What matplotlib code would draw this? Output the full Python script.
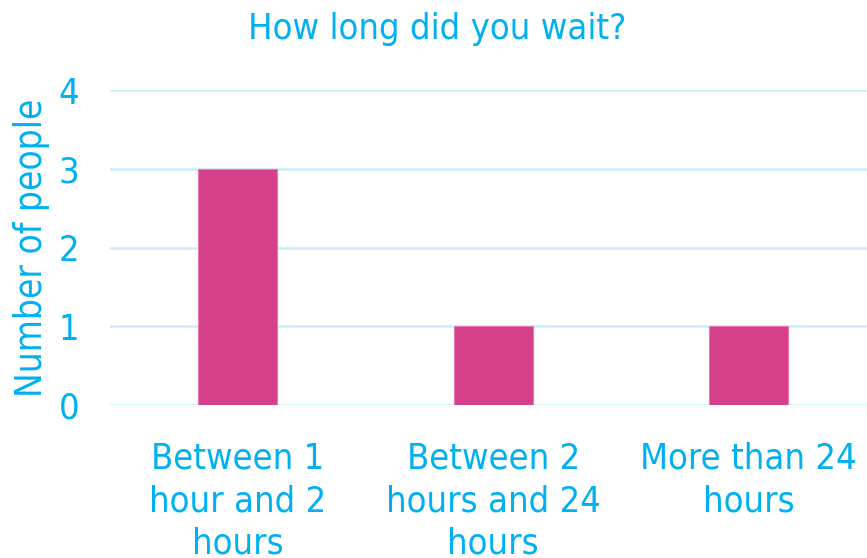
import matplotlib.pyplot as plt

# data
categories = ['Between 1\nhour and 2\nhours', 'Between 2\nhours and 24\nhours', 'More than 24\nhours']
counts = [3, 1, 1]
y_ticks = [0, 1, 2, 3, 4]

text_col = '#00B0F0'
bar_col = '#D63F8A'
grid_col = '#C5EEFB'

plt.rcParams['font.family'] = ['DejaVu Sans']
plt.rcParams['font.stretch'] = 'condensed'

W, H = 867, 558
fig = plt.figure(figsize=(W / 100, H / 100), dpi=100)
ax = fig.add_axes([110 / W, (H - 405) / H, 766.5 / W, 315 / H])

x = list(range(len(categories)))
ax.bar(x, counts, width=0.31, color=bar_col, edgecolor='#E67AB0', linewidth=0.8, zorder=3)

ax.set_ylim(0, 4)
ax.set_xlim(-0.5, 2.5)
ax.set_yticks(y_ticks)
ax.set_xticks(x)
ax.set_xticklabels(categories, linespacing=1.33)
ax.tick_params(axis='both', length=0, labelsize=26, colors=text_col)
ax.tick_params(axis='y', pad=22)
ax.tick_params(axis='x', pad=26)
ax.grid(axis='y', color=grid_col, linewidth=1.8, zorder=0)
for s in ax.spines.values():
    s.set_visible(False)

ax.set_ylabel('Number of people', fontsize=26.5, color=text_col, labelpad=6)
fig.text(437 / W, 1 - 29 / H, 'How long did you wait?', fontsize=26, color=text_col,
         ha='center', va='center')

fig.savefig('out.png', dpi=100)
